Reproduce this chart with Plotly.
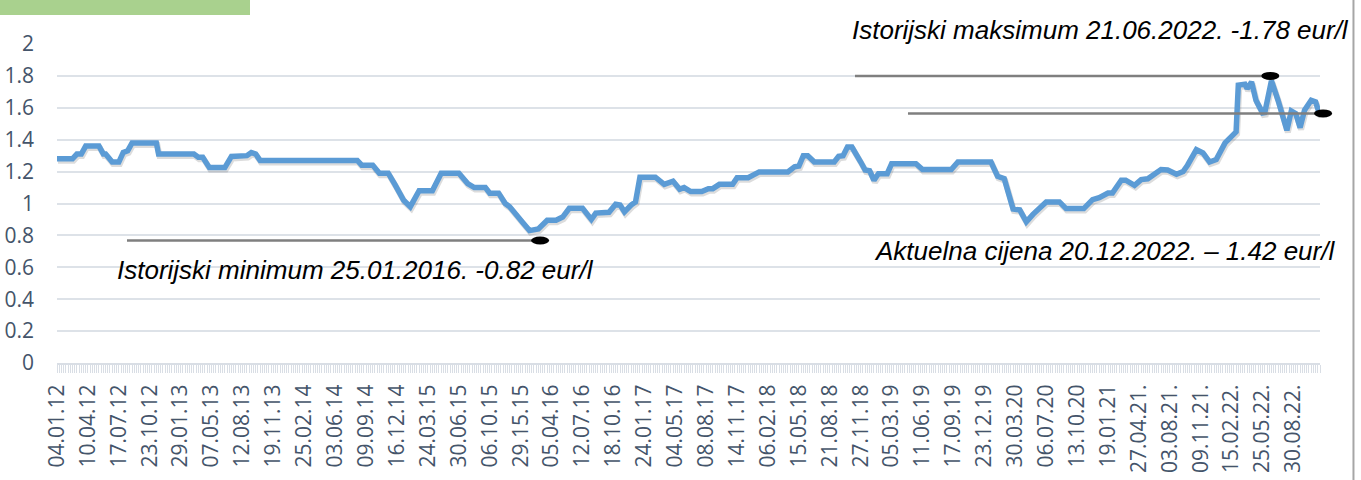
import plotly.graph_objects as go

# ---- data ----
week_idx = [0, 7, 9, 11, 13, 19, 21, 22, 25, 28, 30, 32, 34, 45, 46, 62, 64, 66, 69, 76,
            79, 86, 88, 90, 92, 136, 138, 143, 146, 150, 153, 157, 160, 164, 170, 174, 182,
            186, 189, 194, 196, 200, 203, 205, 211, 214, 218, 222, 226, 229, 232, 238, 242,
            244, 250, 253, 255, 257, 260, 262, 264, 271, 275, 279, 282, 284, 287, 292, 295,
            297, 300, 306, 308, 313, 318, 331, 334, 336, 338, 340, 343, 352, 354, 356, 358,
            360, 364, 366, 368, 370, 372, 376, 378, 389, 392, 405, 408, 423, 426, 429, 433,
            436, 439, 442, 448, 454, 457, 465, 469, 472, 476, 478, 482, 484, 488, 491, 494,
            500, 503, 507, 510, 512, 516, 519, 522, 525, 529, 532, 534, 535, 538, 539, 541,
            543, 546, 547, 550, 553, 555, 557, 559, 561, 563, 565, 568, 570, 572]
price = [1.28, 1.28, 1.31, 1.31, 1.36, 1.36, 1.31, 1.31, 1.26, 1.26, 1.32, 1.33, 1.38, 1.38, 1.31,
         1.31, 1.29, 1.29, 1.225, 1.225, 1.295, 1.30, 1.32, 1.31, 1.27, 1.27, 1.24, 1.24, 1.19,
         1.19, 1.12, 1.02, 0.98, 1.08, 1.08, 1.19, 1.19, 1.125, 1.10, 1.10, 1.065, 1.065, 1.0,
         0.98, 0.88, 0.83, 0.84, 0.895, 0.895, 0.915, 0.97, 0.97, 0.90, 0.94, 0.945, 0.995, 0.99,
         0.947, 0.99, 1.01, 1.165, 1.165, 1.12, 1.14, 1.09, 1.10, 1.075, 1.075, 1.093, 1.093,
         1.12, 1.12, 1.162, 1.162, 1.198, 1.198, 1.23, 1.235, 1.30, 1.30, 1.26, 1.26, 1.296,
         1.30, 1.354, 1.354, 1.26, 1.21, 1.205, 1.146, 1.187, 1.187, 1.25, 1.25, 1.213, 1.213,
         1.26, 1.26, 1.17, 1.156, 0.965, 0.96, 0.885, 0.932, 1.01, 1.01, 0.968, 0.968, 1.024,
         1.037, 1.066, 1.066, 1.146, 1.146, 1.114, 1.15, 1.155, 1.213, 1.21, 1.183, 1.2, 1.24,
         1.338, 1.317, 1.26, 1.275, 1.38, 1.42, 1.449, 1.742, 1.748, 1.72, 1.762, 1.647, 1.568,
         1.57, 1.77, 1.647, 1.553, 1.459, 1.58, 1.564, 1.476, 1.585, 1.647, 1.637, 1.553]

tick_labels = ["04.01.12", "10.04.12", "17.07.12", "23.10.12", "29.01.13", "07.05.13",
               "12.08.13", "19.11.13", "25.02.14", "03.06.14", "09.09.14", "16.12.14",
               "24.03.15", "30.06.15", "06.10.15", "29.15.15", "05.04.16", "12.07.16",
               "18.10.16", "24.01.17", "04.05.17", "08.08.17", "14.11.17", "06.02.18",
               "15.05.18", "21.08.18", "27.11.18", "05.03.19", "11.06.19", "17.09.19",
               "23.12.19", "30.03.20", "06.07.20", "13.10.20", "19.01.21", "27.04.21.",
               "03.08.21.", "09.11.21.", "15.02.22.", "25.05.22.", "30.08.22."]
tick_step = 14

# annotation markers: [minimum, maximum, current]
marker_idx = [218.8, 549.5, 573.4]
marker_val = [0.768, 1.80, 1.565]
leader_start_idx = [31.7, 361.4, 385.4]
notes = ["Istorijski minimum 25.01.2016. -0.82 eur/l",
         "Istorijski maksimum 21.06.2022. -1.78 eur/l",
         "Aktuelna cijena 20.12.2022. – 1.42 eur/l"]

X_MAX = 572
Y_MAX = 2.0

def px(i):
    return i / X_MAX

def py(v):
    return v / Y_MAX

fig = go.Figure()

# invisible trace so the base axes (grid, ticks, labels) are drawn
fig.add_trace(go.Scatter(x=week_idx, y=price, mode="lines",
                         line=dict(color="rgba(0,0,0,0)", width=0),
                         hoverinfo="skip", showlegend=False))
# soft shadow under the line (same data on slightly shifted overlay axes)
fig.add_trace(go.Scatter(x=week_idx, y=price, mode="lines", xaxis="x2", yaxis="y2",
                         line=dict(color="rgba(60,60,60,0.18)", width=6),
                         hoverinfo="skip", showlegend=False))
fig.add_trace(go.Scatter(x=week_idx, y=price, mode="lines", xaxis="x3", yaxis="y3",
                         line=dict(color="#5B9BD5", width=5.5),
                         showlegend=False))

tick_font = dict(family="Open Sans", size=21, color="#44546A")

fig.update_layout(
    width=1361, height=480,
    margin=dict(l=57, r=41, t=44, b=117),
    paper_bgcolor="white", plot_bgcolor="white",
    showlegend=False,
    xaxis=dict(range=[0, X_MAX], tickmode="array", automargin=False,
               tickvals=list(range(0, tick_step * len(tick_labels), tick_step)),
               ticktext=tick_labels, tickangle=-90, tickfont=tick_font,
               showgrid=False, zeroline=False,
               showline=True, linecolor="#d9dee5", linewidth=2,
               ticks="outside", ticklen=8, tickcolor="#d9dee5", tickwidth=1,
               ticklabelstandoff=3,
               minor=dict(dtick=1, tick0=0, ticks="outside", ticklen=8,
                          tickcolor="#d9dee5", tickwidth=1, showgrid=False)),
    yaxis=dict(range=[0, Y_MAX], dtick=0.2, tick0=0, tickfont=tick_font, automargin=False,
               showgrid=True, gridcolor="#dde2e8", gridwidth=1.5,
               zeroline=False, showline=False, ticks="", ticklabelstandoff=22),
    xaxis2=dict(overlaying="x", range=[-0.45, X_MAX - 0.45], visible=False),
    yaxis2=dict(overlaying="y", range=[0.0125, Y_MAX + 0.0125], visible=False),
    xaxis3=dict(overlaying="x", range=[0, X_MAX], visible=False),
    yaxis3=dict(overlaying="y", range=[0, Y_MAX], visible=False),
)

shapes = []
# green block top-left
shapes.append(dict(type="rect", xref="paper", yref="paper",
                   x0=-57 / 1263, x1=193 / 1263, y0=1.091, y1=1.2,
                   fillcolor="#A9D18E", line=dict(width=0), layer="above"))
# right border line
shapes.append(dict(type="line", xref="paper", yref="paper",
                   x0=1.0265, x1=1.0265, y0=-0.4, y1=1.2,
                   line=dict(color="#a6a6a6", width=2)))
for i0, i1, v in zip(leader_start_idx, marker_idx, marker_val):
    shapes.append(dict(type="line", xref="paper", yref="paper",
                       x0=px(i0), x1=px(i1), y0=py(v), y1=py(v),
                       line=dict(color="#7f7f7f", width=2.5), layer="above"))
for i1, v in zip(marker_idx, marker_val):
    shapes.append(dict(type="circle", xref="paper", yref="paper",
                       xsizemode="pixel", ysizemode="pixel",
                       xanchor=px(i1), yanchor=py(v),
                       x0=-9, x1=9, y0=-4, y1=4,
                       fillcolor="black", line=dict(width=0), layer="above"))
fig.update_layout(shapes=shapes)

note_font = dict(family="Liberation Sans, Arial", size=26, color="#000000")
note_pos = [(26.3, 0.585), (359.1, 2.085), (369.1, 0.70)]
for txt, (ix, iv) in zip(notes, note_pos):
    fig.add_annotation(text="<i>" + txt + "</i>", xref="paper", yref="paper",
                       x=px(ix), y=py(iv), xanchor="left", yanchor="middle",
                       showarrow=False, font=note_font)

fig.write_html("out.html", config={"displayModeBar": False},
               post_script="document.body.style.margin='0';")
